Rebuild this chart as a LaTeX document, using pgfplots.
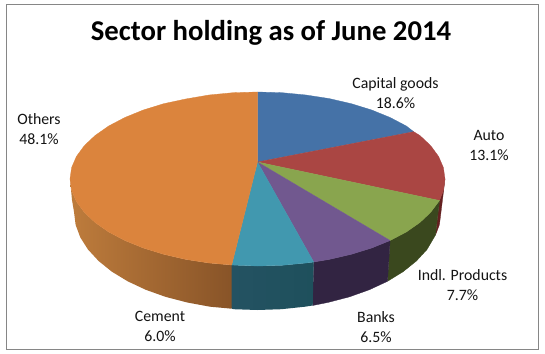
\documentclass[border=0pt]{standalone}
\usepackage{pgfplots}
\pgfplotsset{compat=1.18}
\usepackage{fontspec}
\setmainfont{Carlito}
\definecolor{cBlue}{RGB}{69,114,167}
\definecolor{cRed}{RGB}{170,70,67}
\definecolor{cGreen}{RGB}{137,165,78}
\definecolor{cPurple}{RGB}{113,88,143}
\definecolor{cTeal}{RGB}{65,152,175}
\definecolor{cOrange}{RGB}{219,132,61}
\definecolor{sRed}{RGB}{100,32,32}
\definecolor{sGreen}{RGB}{58,72,30}
\definecolor{sPurple}{RGB}{50,36,66}
\definecolor{sTealL}{RGB}{36,82,98}
\definecolor{sTealR}{RGB}{30,80,92}
\definecolor{sOrangeL}{RGB}{190,124,60}
\definecolor{sOrangeR}{RGB}{136,84,40}
\definecolor{frame}{RGB}{134,134,134}
\pgfplotsset{slice/.style={draw=#1,fill=#1,line width=0.3pt,mark=none,line join=round}}
\begin{document}
\begin{tikzpicture}
\begin{axis}[
  width=545bp,height=354bp,scale only axis,
  xmin=0,xmax=545,ymin=0,ymax=354,y dir=reverse,
  axis lines=none,clip=true,
  nodes={font=\fontsize{15.8bp}{20bp}\selectfont,align=center,text=black!92}
]
% canvas and frame
\addplot[draw=none,fill=white,mark=none] coordinates {(0,0)(545,0)(545,354)(0,354)} --cycle;
\addplot[draw=frame,line width=0.9pt,mark=none] coordinates {(6.5,4.5)(538.5,4.5)(538.5,349)(6.5,349)} --cycle;
% side walls
\addplot[slice=sRed] coordinates {(445,179)(443.4,190.4)(439.5,200.5)(435.5,235)(439.4,224.8)(441,212)} --cycle;
\addplot[slice=sGreen] coordinates {(439.5,200.5)(430.7,212.3)(419.9,222.5)(406.3,232)(390.1,240.5)(387.5,281.3)(403.1,271.7)(416.4,261)(427,249.5)(435.5,235)} --cycle;
\addplot[slice=sPurple] coordinates {(390.1,240.5)(371.7,248)(351.3,254.3)(329.3,259.4)(313.7,262)(312.7,305.5)(327.7,302.5)(349.3,296.9)(369.2,289.8)(387.5,281.3)} --cycle;
\addplot[draw=none,left color=sTealL,right color=sTealR,mark=none] coordinates {(313.7,262)(306,263)(282,265.3)(257.5,266)(231.7,265)(231.7,308.7)(233.6,309.2)(257.5,310)(281.4,309.2)(305,306.7)(312.7,305.5)} --cycle;
\addplot[draw=none,left color=sOrangeL,right color=sOrangeR,mark=none] coordinates {(231.7,265)(209,263)(185.7,259.4)(163.7,254.3)(143.3,248)(124.9,240.5)(108.7,232)(95.1,222.5)(84.3,212.3)(76.4,201.5)(71.6,190.4)(70,179)(72,200)(74,212)(75.6,224.8)(80.3,237.4)(88,249.5)(98.6,261)(111.9,271.7)(127.7,281.3)(145.8,289.8)(165.7,296.9)(187.3,302.5)(210,306.7)(231.7,308.7)} --cycle;
% top surface: Capital goods, Auto, Indl. Products, Banks, Cement, Others
\addplot[slice=cBlue] coordinates {(257.5,162)(257.5,92)(282,92.7)(306,95)(329.3,98.6)(351.3,103.7)(371.7,110)(390.1,117.5)(406.3,126)(413.7,131.7)} --cycle;
\addplot[slice=cRed] coordinates {(257.5,162)(413.7,131.7)(419.9,135.5)(430.7,145.7)(438.6,156.5)(443.4,167.6)(445,179)(443.4,190.4)(439.5,200.5)} --cycle;
\addplot[slice=cGreen] coordinates {(257.5,162)(439.5,200.5)(430.7,212.3)(419.9,222.5)(406.3,232)(390.1,240.5)} --cycle;
\addplot[slice=cPurple] coordinates {(257.5,162)(390.1,240.5)(371.7,248)(351.3,254.3)(329.3,259.4)(313.7,262)} --cycle;
\addplot[slice=cTeal] coordinates {(257.5,162)(313.7,262)(306,263)(282,265.3)(257.5,266)(231.7,265)} --cycle;
\addplot[slice=cOrange] coordinates {(257.5,162)(231.7,265)(209,263)(185.7,259.4)(163.7,254.3)(143.3,248)(124.9,240.5)(108.7,232)(95.1,222.5)(84.3,212.3)(76.4,201.5)(71.6,190.4)(70,179)(71.6,167.6)(76.4,156.5)(84.3,145.7)(95.1,135.5)(108.7,126)(124.9,117.5)(143.3,110)(163.7,103.7)(185.7,99)(209,95)(233,92.7)(257.5,92)} --cycle;
% text
\node[font=\fontsize{28.7bp}{30bp}\selectfont\bfseries,text=black] at (axis cs:271,33) {Sector holding as of June 2014};
\node at (axis cs:395.5,93) {Capital goods\\18.6\%};
\node at (axis cs:489,145) {Auto\\13.1\%};
\node at (axis cs:462.5,285) {Indl. Products\\7.7\%};
\node at (axis cs:376,327) {Banks\\6.5\%};
\node at (axis cs:160,326) {Cement\\6.0\%};
\node at (axis cs:39,129) {Others\\48.1\%};
\end{axis}
\end{tikzpicture}
\end{document}
